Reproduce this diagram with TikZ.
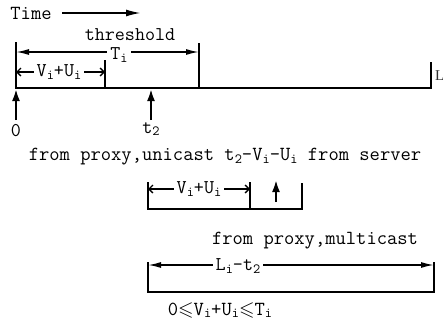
\documentclass[tikz,border=0pt]{standalone}
\usepackage{fontspec}
\usepackage{amssymb}
\newfontfamily\lfont{Liberation Serif}
\usetikzlibrary{arrows.meta}
% small lowered index for V_i, U_i, T_i, t_2, L_i
\newcommand{\ix}[1]{\raisebox{-0.3ex}{\fontsize{14}{14}\selectfont #1}}
\newcommand{\leqs}{\ensuremath{\leqslant}}

\begin{document}
\begin{tikzpicture}[x=1pt,y=-1pt,
  bar/.style={line width=2.1pt},
  dimfill/.style={line width=1.6pt,{Latex[length=13pt,width=6pt]}-{Latex[length=13pt,width=6pt]}},
  dimopen/.style={line width=1.4pt,{Straight Barb[length=4pt,width=8pt]}-{Straight Barb[length=4pt,width=8pt]}},
  uparr/.style={line width=2.1pt,-{Latex[length=12pt,width=8pt]}},
  lbl/.style={font=\ttfamily\fontsize{19.5}{19.5}\selectfont, inner sep=1pt},
  gaplbl/.style={lbl, fill=white, inner xsep=3pt, inner ysep=0pt}
]
\useasboundingbox (0,0) rectangle (443,324);

% time direction
\node[lbl, font=\ttfamily\fontsize{20}{20}\selectfont] (time) at (31,13) {Time};
\coordinate (ta) at (62,13);
\coordinate (tb) at (141,13);
\draw[uparr,line width=1.8pt,-{Latex[length=15pt,width=7pt]}] (ta) -- (tb);

% upper time line with its ticks
\coordinate (o) at (16,88);
\coordinate (oTop) at (16,42);
\coordinate (vu) at (105,88);
\coordinate (vuTop) at (105,60);
\coordinate (th) at (199,88);
\coordinate (thTop) at (199,43);
\coordinate (le) at (431,88);
\coordinate (leTop) at (431,62);
\draw[bar] (oTop) -- (o) -- (le) -- (leTop);
\draw[bar] (vuTop) -- (vu);
\draw[bar] (thTop) -- (th);
\node[anchor=west, inner sep=0pt, font=\lfont\fontsize{15}{15}\selectfont, text=black!80] (len) at (435,76) {L};

% threshold T_i
\node[lbl] (thr) at (130,35) {threshold};
\coordinate (tiA) at (16,52);
\coordinate (tiB) at (199,52);
\draw[dimfill] (tiA) -- (tiB);
\node[gaplbl] (ti) at (119,55) {T\ix{i}};

% V_i+U_i on the upper line
\coordinate (vuA) at (16,72);
\coordinate (vuB) at (105,72);
\draw[dimopen] (vuA) -- (vuB);
\node[gaplbl] (vuLbl) at (59,72) {V\ix{i}+U\ix{i}};

% request instants
\coordinate (zA) at (16,120);
\coordinate (zB) at (16,89);
\draw[uparr] (zA) -- (zB);
\node[lbl] (zero) at (16,131) {0};
\coordinate (t2A) at (151,120);
\coordinate (t2B) at (151,89);
\draw[uparr] (t2A) -- (t2B);
\node[lbl] (t2) at (151,129) {t\ix{2}};

% unicast part
\node[lbl, font=\ttfamily\fontsize{20}{20}\selectfont] (uni) at (225,157) {from proxy,unicast t\ix{2}-V\ix{i}-U\ix{i} from server};
\coordinate (uL) at (148,209);
\coordinate (uLTop) at (148,182);
\coordinate (uM) at (250,209);
\coordinate (uMTop) at (250,182);
\coordinate (uR) at (302,209);
\coordinate (uRTop) at (302,183);
\draw[bar] (uLTop) -- (uL) -- (uR) -- (uRTop);
\draw[bar] (uMTop) -- (uM);
\coordinate (uvA) at (148,189);
\coordinate (uvB) at (250,189);
\draw[dimopen] (uvA) -- (uvB);
\node[gaplbl] (uvLbl) at (199,189) {V\ix{i}+U\ix{i}};
\coordinate (upA) at (276,202);
\coordinate (upB) at (276,180);
\draw[uparr] (upA) -- (upB);

% multicast part
\node[lbl, font=\ttfamily\fontsize{20}{20}\selectfont] (multi) at (315,241) {from proxy,multicast};
\coordinate (mL) at (148,292);
\coordinate (mLTop) at (148,262);
\coordinate (mR) at (434,292);
\coordinate (mRTop) at (434,262);
\draw[bar] (mLTop) -- (mL) -- (mR) -- (mRTop);
\coordinate (mA) at (148,265);
\coordinate (mB) at (434,265);
\draw[dimfill] (mA) -- (mB);
\node[gaplbl] (mLbl) at (238,266) {L\ix{i}-t\ix{2}};

% constraint
\node[lbl, font=\ttfamily\fontsize{20}{20}\selectfont] (cond) at (220,310) {0\leqs V\ix{i}+U\ix{i}\leqs T\ix{i}};
\end{tikzpicture}
\end{document}
